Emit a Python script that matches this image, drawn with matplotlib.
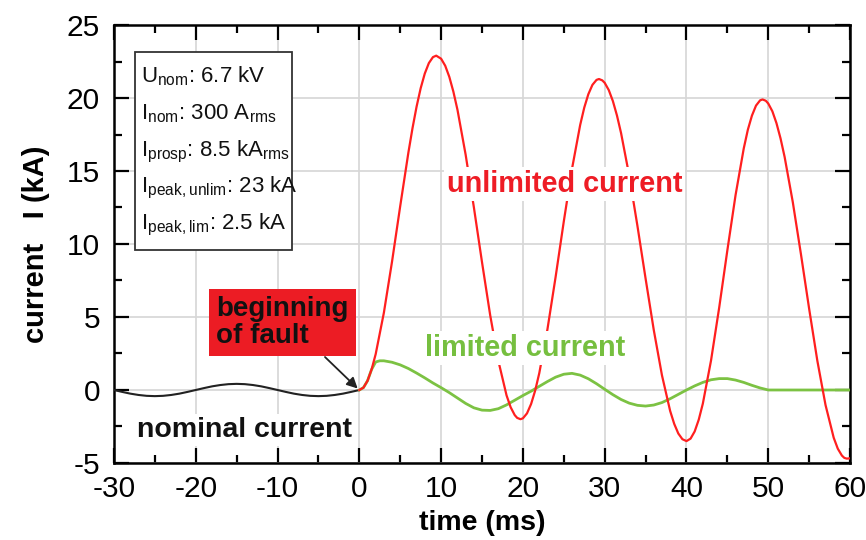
import matplotlib
matplotlib.use('Agg')
import matplotlib.pyplot as plt
from matplotlib.patches import Rectangle
from matplotlib.ticker import MultipleLocator

plt.rcParams['font.family'] = ['Liberation Sans', 'DejaVu Sans']
plt.rcParams['mathtext.fontset'] = 'custom'
plt.rcParams['mathtext.rm'] = 'Liberation Sans'
plt.rcParams['axes.unicode_minus'] = False

# nominal current before the fault (kA)
t_nom = [-30, -29, -28, -27, -26, -25, -24, -23, -22, -21, -20,
         -19, -18, -17, -16, -15, -14, -13, -12, -11, -10,
         -9, -8, -7, -6, -5, -4, -3, -2, -1, 0]
i_nom = [0, -0.13, -0.25, -0.34, -0.40, -0.42, -0.40, -0.34, -0.25, -0.13, 0,
         0.13, 0.25, 0.34, 0.40, 0.42, 0.40, 0.34, 0.25, 0.13, 0,
         -0.13, -0.25, -0.34, -0.40, -0.42, -0.40, -0.34, -0.25, -0.13, 0]

# unlimited (prospective) fault current
t_unlim = [0, 0.5, 1, 1.5, 2, 3, 4, 5, 6, 6.5, 7, 7.5, 8, 8.5, 9, 9.4,
           10, 10.5, 11, 11.5, 12, 13, 14, 15, 16, 17, 18, 18.5, 19, 19.3, 19.7,
           20, 20.5, 21, 21.5, 22, 23, 24, 25, 26, 27, 27.5, 28, 28.5, 29, 29.3,
           29.7, 30, 30.5, 31, 31.5, 32, 33, 34, 35, 36, 37, 38, 38.5, 39, 39.5, 40,
           40.5, 41, 41.5, 42, 43, 44, 45, 46, 47, 47.5, 48, 48.5, 49, 49.3,
           49.7, 50, 50.5, 51, 51.5, 52, 53, 54, 55, 56, 57, 58, 58.5, 59, 59.3, 59.6, 60]
i_unlim = [0, 0.16, 0.63, 1.41, 2.46, 5.29, 8.80, 12.60, 16.27, 17.93, 19.41, 20.67, 21.67, 22.39, 22.80, 22.9,
           22.69, 22.21, 21.45, 20.43, 19.19, 16.11, 12.53, 8.75, 5.12, 1.99, -0.37, -1.18, -1.72, -1.91, -2.0,
           -1.94, -1.60, -0.96, -0.04, 1.15, 4.16, 7.75, 11.55, 15.14, 18.15, 19.34, 20.26, 20.90, 21.24, 21.3,
           21.21, 21.04, 20.54, 19.79, 18.80, 17.60, 14.68, 11.25, 7.63, 4.11, 1.01, -1.43, -2.32, -2.98, -3.37, -3.5,
           -3.33, -2.84, -2.03, -0.93, 2.02, 5.65, 9.58, 13.35, 16.54, 17.82, 18.79, 19.48, 19.84, 19.9,
           19.81, 19.62, 19.09, 18.28, 17.23, 15.96, 12.86, 9.28, 5.55, 2.00, -1.03, -3.27, -4.02, -4.49, -4.65, -4.7, -4.68]

# limited current
t_lim = [0, 0.5, 1, 1.5, 2, 2.5, 3, 4, 5, 6, 7, 8, 9,
         10, 11, 12, 13, 14, 15, 16, 17, 18, 19,
         20, 21, 22, 23, 24, 25, 26, 27, 28, 29,
         30, 31, 32, 33, 34, 35, 36, 37, 38, 39,
         40, 41, 42, 43, 44, 45, 46, 47, 48, 49, 50, 55, 60]
i_lim = [0, 0.16, 0.63, 1.41, 1.92, 2.0, 2.0, 1.9, 1.72, 1.47, 1.16, 0.83, 0.48,
         0.16, -0.18, -0.55, -0.92, -1.22, -1.38, -1.40, -1.28, -1.02, -0.70,
         -0.38, -0.08, 0.25, 0.58, 0.88, 1.08, 1.14, 1.02, 0.77, 0.43,
         0.05, -0.32, -0.65, -0.90, -1.05, -1.10, -1.03, -0.86, -0.60, -0.30,
         0.0, 0.28, 0.52, 0.70, 0.78, 0.78, 0.68, 0.52, 0.32, 0.14, 0.0, 0.0, 0.0]

info_lines = [r'U$_{\mathrm{nom}}$: 6.7 kV',
              r'I$_{\mathrm{nom}}$: 300 A$_{\mathrm{rms}}$',
              r'I$_{\mathrm{prosp}}$: 8.5 kA$_{\mathrm{rms}}$',
              r'I$_{\mathrm{peak,unlim}}$: 23 kA',
              r'I$_{\mathrm{peak,lim}}$: 2.5 kA']

red = '#ff1f1f'
green = '#7cc243'

fig = plt.figure(figsize=(8.66, 5.4), dpi=100)
ax = fig.add_axes([0.1316, 0.1426, 0.85, 0.8111])

ax.plot(t_nom, i_nom, color='#222222', lw=1.5, zorder=3)
ax.plot(t_lim, i_lim, color=green, lw=2.0, zorder=3)
ax.plot(t_unlim, i_unlim, color=red, lw=1.6, zorder=4)

ax.set_xlim(-30, 60)
ax.set_ylim(-5, 25)
ax.xaxis.set_major_locator(MultipleLocator(10))
ax.xaxis.set_minor_locator(MultipleLocator(5))
ax.yaxis.set_major_locator(MultipleLocator(5))
ax.yaxis.set_minor_locator(MultipleLocator(2.5))
ax.tick_params(which='both', direction='in', top=True, right=True, width=1.6,
               labelsize=21.5, pad=10)
ax.tick_params(axis='x', pad=9)
ax.tick_params(which='major', length=11)
ax.tick_params(which='minor', length=6)
for s in ax.spines.values():
    s.set_linewidth(1.8)
ax.grid(True, which='major', color='#d6d6d6', lw=1.2)
ax.set_axisbelow(True)

ax.set_xlabel('time (ms)', fontsize=20.5, fontweight='bold', va='top')
ax.xaxis.set_label_coords(0.5, -0.1075)
ax.set_ylabel('current   I (kA)', fontsize=21, fontweight='bold', labelpad=12)

# info box
ax.add_patch(Rectangle((0.0285, 0.486), 0.2133, 0.452, transform=ax.transAxes,
                       facecolor='white', edgecolor='#333333', lw=1.3, zorder=6))
for k, line in enumerate(info_lines):
    ax.text(0.037, 0.868 - k * 0.0835, line, transform=ax.transAxes, fontsize=16,
            va='baseline', ha='left', color='#111111', zorder=7)

white = dict(facecolor='white', edgecolor='none', pad=2)
ax.text(10.7, 14.1, 'unlimited current', color='#ee1c25', fontsize=20.8,
        fontweight='bold', ha='left', va='center', bbox=white, zorder=5)
ax.text(8.0, 2.85, 'limited current', color='#76bf3f', fontsize=20.8,
        fontweight='bold', ha='left', va='center', bbox=white, zorder=5)
ax.text(-27.2, -2.75, 'nominal current', color='#111111', fontsize=20.5,
        fontweight='bold', ha='left', va='center', bbox=white, zorder=5)

ax.text(-17.5, 4.62, 'beginning\nof fault', color='#111111', fontsize=20,
        fontweight='bold', ha='left', va='center', linespacing=1.05,
        bbox=dict(boxstyle='square,pad=0.25', facecolor='#ec1c24', edgecolor='none'),
        zorder=6)
ax.annotate('', xy=(-0.2, 0.1), xytext=(-4.2, 2.26),
            arrowprops=dict(arrowstyle='-|>', color='#222222', lw=1.3,
                            mutation_scale=16, shrinkA=0, shrinkB=0), zorder=6)

fig.savefig('out.png', dpi=100)
